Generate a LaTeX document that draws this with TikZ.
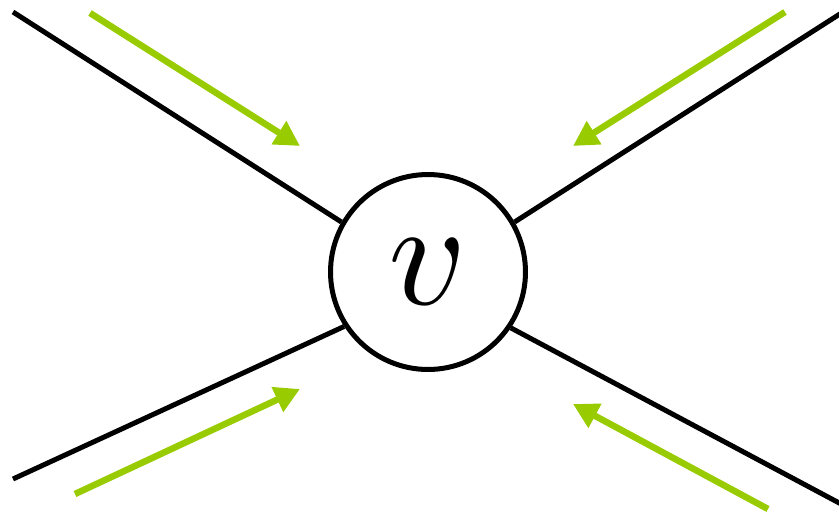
\documentclass[tikz,border=0pt]{standalone}
\usepackage{graphicx}
\usepackage{tikz}
\usetikzlibrary{arrows.meta}
\definecolor{flowgreen}{RGB}{153,204,0}

\begin{document}
\begin{tikzpicture}[
  x=0.02cm, y=-0.02cm,
  vtx/.style={draw, circle, line width=0.1cm, minimum size=3.9cm, inner sep=0pt},
  edge/.style={line width=0.1cm},
  flow/.style={draw=flowgreen, line width=0.13cm,
               -{Triangle[length=0.5cm, width=0.52cm]}}
]
\useasboundingbox (0,0) rectangle (839,514);
\node[vtx] (v) at (428,272) {\scalebox{8.6}{$v$}};
% free ends of the edges
\coordinate (tl) at (13,12);
\coordinate (tr) at (843,12);
\coordinate (bl) at (13,479);
\coordinate (br) at (843,505);
\draw[edge] (tl) -- (v.150);
\draw[edge] (tr) -- (v.30);
\draw[edge] (bl) -- (v.213);
\draw[edge] (br) -- (v.326);
% incoming flow
\coordinate (ftl) at (90,13);
\coordinate (ttl) at (300,146);
\coordinate (ftr) at (785,12);
\coordinate (ttr) at (573,146);
\coordinate (fbl) at (75,494);
\coordinate (tbl) at (300,389);
\coordinate (fbr) at (768,509);
\coordinate (tbr) at (573,404);
\draw[flow] (ftl) -- (ttl);
\draw[flow] (ftr) -- (ttr);
\draw[flow] (fbl) -- (tbl);
\draw[flow] (fbr) -- (tbr);
\end{tikzpicture}
\end{document}
